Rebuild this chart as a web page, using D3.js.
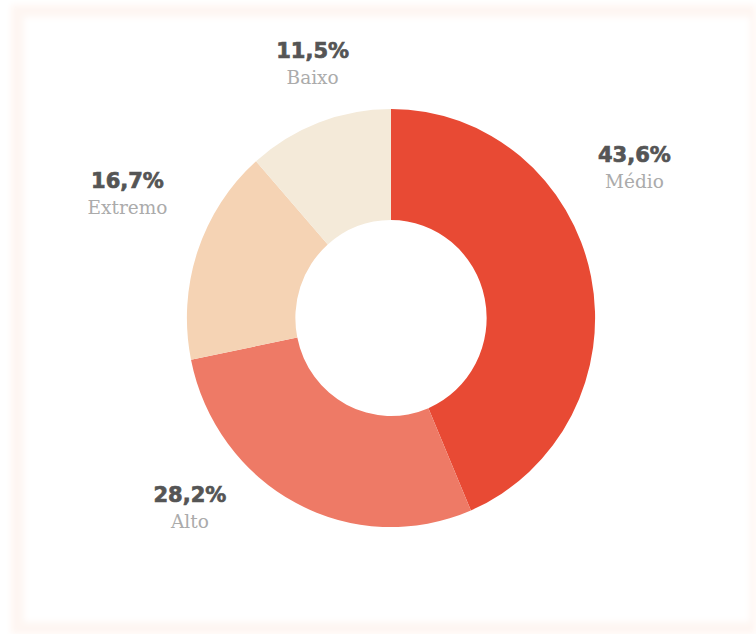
<!DOCTYPE html>
<html>
<head>
<meta charset="utf-8">
<script src="https://cdn.jsdelivr.net/npm/d3@7"></script>
<style>
  body { margin: 0; background: #fff; }
  svg { display: block; }
</style>
</head>
<body>
<svg id="chart" width="756" height="634"></svg>
<script>
// data
const categories = ['Médio', 'Alto', 'Extremo', 'Baixo'];
const values = [43.6, 28.2, 16.7, 11.5];
const colors = ['#e84a34', '#ee7a66', '#f5d3b4', '#f4ead9'];

// where each label sits (angle in degrees from top, distance from center)
const labelAngles = [58, 227, 295.5, 343];
const labelRadius = [287, 275, 292, 268];

const svg = d3.select('#chart');

const defs = svg.append('defs');
defs.append('filter')
    .attr('id', 'soft')
    .attr('x', '-5%').attr('y', '-5%')
    .attr('width', '110%').attr('height', '110%')
  .append('feGaussianBlur')
    .attr('stdDeviation', 3);

// card frame
svg.append('rect')
    .attr('x', 11).attr('y', 5)
    .attr('width', 745).attr('height', 629)
    .attr('fill', '#fef6f2')
    .attr('filter', 'url(#soft)');
svg.append('rect')
    .attr('x', 24).attr('y', 17)
    .attr('width', 726).attr('height', 605)
    .attr('fill', '#fff')
    .attr('filter', 'url(#soft)');

const cx = 391, cy = 318,
      outerR = 207, innerR = 97;

const g = svg.append('g')
    .attr('transform', `translate(${cx},${cy})`);

const pie = d3.pie().sort(null).value(d => d);
const arcs = pie(values);

const arcGen = d3.arc()
    .innerRadius(innerR)
    .outerRadius(outerR);

g.append('g')
    .attr('transform', 'scale(0.986,1.01)')
  .selectAll('path')
    .data(arcs)
    .enter().append('path')
    .attr('d', arcGen)
    .attr('fill', (d, i) => colors[i]);

const fmt = v => d3.format('.1f')(v).replace('.', ',') + '%';

const label = g.selectAll('.label')
    .data(arcs)
    .enter().append('g')
    .attr('class', 'label')
    .attr('transform', (d, i) => {
      const a = labelAngles[i] * Math.PI / 180;
      return `translate(${Math.sin(a) * labelRadius[i]},${-Math.cos(a) * labelRadius[i]})`;
    });

label.append('text')
    .attr('text-anchor', 'middle')
    .attr('y', -4)
    .attr('font-family', '"DejaVu Sans", sans-serif')
    .attr('font-weight', 'bold')
    .attr('font-size', 21)
    .attr('fill', '#555')
    .attr('stroke', '#555')
    .attr('stroke-width', 0.7)
    .text(d => fmt(d.data));

label.append('text')
    .attr('text-anchor', 'middle')
    .attr('y', 22)
    .attr('font-family', '"DejaVu Serif", serif')
    .attr('font-size', 18.5)
    .attr('fill', '#ababab')
    .text((d, i) => categories[i]);
</script>
</body>
</html>
